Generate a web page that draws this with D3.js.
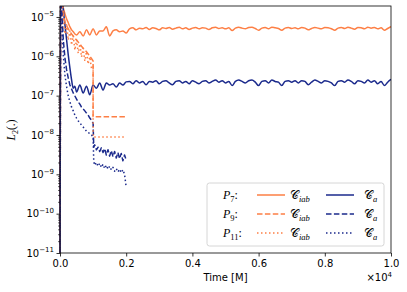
<!DOCTYPE html>
<html><head><meta charset="utf-8">
<script src="https://cdn.jsdelivr.net/npm/d3@7"></script>
<style>body{margin:0;background:#fff} svg{display:block}</style>
</head><body><svg id="c" width="407" height="292"></svg>
<script>
// ---- axis ticks ----
const xTicks = [0, 2000, 4000, 6000, 8000, 10000];
const xTickLabels = ["0.0", "0.2", "0.4", "0.6", "0.8", "1.0"];
const yTickExps = [-11, -10, -9, -8, -7, -6, -5];

// ---- time grids ----
const timeEarly = [0,20,50,100,150,200,250,300,350,400,450,500,600,700,800,900,1000,1100,1200,1300,1400,1500,1600,1700,1800,1900,2000];
const timeLate = d3.range(2100, 10001, 100);
const timePre = [0,20,50,100,150,200,250,300,350,400,450,500,550,600,650,700,750,800,850,900,950,1000];
const timeFlat = [1000, 2000];
const timePost = [1020,1050,1100,1150,1200,1250,1300,1350,1400,1450,1500,1550,1600,1650,1700,1750,1800,1850,1900,1950,2000];

// ---- P7, C_iab ----
const p7IabEarly = [1e-12,1e-4,3e-5,1.7e-5,1.2e-5,8.9e-6,7.1e-6,5.6e-6,4.7e-6,4.2e-6,3.7e-6,3.5e-6,4.2e-6,3.3e-6,4.7e-6,3.5e-6,5.0e-6,3.5e-6,4.4e-6,4.4e-6,5.6e-6,3.3e-6,4.4e-6,4.7e-6,4.2e-6,4.4e-6,3.9e-6];
const p7IabLate = [
 5.0e-6,5.3e-6,4.7e-6,5.2e-6,5.0e-6,5.4e-6,4.8e-6,5.3e-6,5.1e-6,4.7e-6,
 5.3e-6,5.1e-6,5.4e-6,4.9e-6,5.2e-6,5.5e-6,5.0e-6,5.3e-6,4.8e-6,5.2e-6,
 5.4e-6,5.0e-6,5.3e-6,5.2e-6,4.8e-6,5.3e-6,5.5e-6,5.1e-6,5.3e-6,5.0e-6,
 5.3e-6,4.5e-6,5.2e-6,5.5e-6,5.2e-6,5.0e-6,5.4e-6,5.5e-6,5.1e-6,4.6e-6,
 5.2e-6,5.4e-6,5.0e-6,5.5e-6,5.3e-6,5.1e-6,4.6e-6,5.2e-6,5.4e-6,5.1e-6,
 5.3e-6,5.0e-6,5.4e-6,5.2e-6,4.7e-6,5.1e-6,5.4e-6,5.2e-6,5.0e-6,5.4e-6,
 5.3e-6,5.0e-6,4.6e-6,5.2e-6,5.4e-6,5.1e-6,5.5e-6,5.2e-6,4.9e-6,5.4e-6,
 5.3e-6,5.0e-6,5.5e-6,5.2e-6,5.4e-6,5.0e-6,5.3e-6,4.6e-6,5.1e-6,5.7e-6];

// ---- P7, C_a ----
const p7CaEarly = [1e-12,1e-4,4e-5,1.5e-5,6.3e-6,2.6e-6,1.07e-6,5.0e-7,2.5e-7,1.55e-7,1.74e-7,1.23e-7,1.86e-7,1.17e-7,1.74e-7,1.05e-7,1.86e-7,1.55e-7,2.09e-7,1.38e-7,2.09e-7,1.86e-7,2.0e-7,1.66e-7,2.09e-7,1.86e-7,2.24e-7];
const p7CaLate = [
 2.3e-7,2.0e-7,2.4e-7,2.1e-7,2.3e-7,1.9e-7,2.3e-7,2.2e-7,2.4e-7,2.0e-7,
 2.3e-7,2.4e-7,2.1e-7,1.9e-7,2.3e-7,2.4e-7,2.1e-7,2.3e-7,2.0e-7,2.4e-7,
 2.2e-7,2.0e-7,2.3e-7,2.4e-7,2.1e-7,2.3e-7,2.5e-7,2.2e-7,2.4e-7,2.1e-7,
 2.3e-7,1.8e-7,2.3e-7,2.5e-7,2.3e-7,2.1e-7,2.4e-7,2.5e-7,2.2e-7,1.8e-7,
 2.3e-7,2.4e-7,2.1e-7,2.5e-7,2.3e-7,2.2e-7,1.8e-7,2.3e-7,2.4e-7,2.2e-7,
 2.4e-7,2.1e-7,2.4e-7,2.3e-7,1.9e-7,2.2e-7,2.5e-7,2.3e-7,2.1e-7,2.4e-7,
 2.3e-7,2.1e-7,1.8e-7,2.3e-7,2.4e-7,2.2e-7,2.5e-7,2.3e-7,2.0e-7,2.4e-7,
 2.3e-7,2.1e-7,2.5e-7,2.2e-7,2.4e-7,2.0e-7,2.3e-7,1.8e-7,2.2e-7,2.6e-7];

// ---- P9 / P11, C_iab ----
const p9IabPre = [1e-12,1e-4,4e-5,1.1e-5,7.5e-6,5.9e-6,5.0e-6,4.2e-6,3.7e-6,3.3e-6,2.9e-6,2.6e-6,2.3e-6,2.05e-6,1.8e-6,1.6e-6,1.45e-6,1.3e-6,1.15e-6,1.0e-6,8.8e-7,7.6e-7];
const p9IabFlat = [2.9e-8, 2.9e-8];
const p11IabPre = [1e-12,1e-4,3e-5,9.4e-6,3.7e-6,6.3e-6,2.6e-6,4.4e-6,1.95e-6,3.3e-6,1.45e-6,2.6e-6,1.2e-6,2.05e-6,9.6e-7,1.6e-6,7.6e-7,1.3e-6,6.4e-7,9.6e-7,5.0e-7,5.6e-7];
const p11IabFlat = [8.9e-9, 8.9e-9];

// ---- P9 / P11, C_a ----
const p9CaPre = [1e-12,1e-4,2e-5,2.6e-6,9e-7,4.5e-7,2.8e-7,1.86e-7,1.47e-7,1.17e-7,9.8e-8,8.2e-8,6.9e-8,6.1e-8,5.1e-8,4.6e-8,4.1e-8,3.6e-8,3.2e-8,2.7e-8,2.4e-8,2.0e-8];
const p9CaPost = [4.9e-9,5.6e-9,4.2e-9,4.9e-9,3.8e-9,4.7e-9,3.6e-9,4.5e-9,3.1e-9,4.2e-9,2.9e-9,4.0e-9,2.8e-9,3.8e-9,2.6e-9,3.6e-9,2.5e-9,3.4e-9,2.2e-9,3.1e-9,2.3e-9];
const p11CaPre = [1e-12,1e-4,1e-5,1.07e-6,3.3e-7,1.66e-7,9.8e-8,6.9e-8,5.1e-8,4.1e-8,3.2e-8,2.7e-8,2.3e-8,2.0e-8,1.8e-8,1.6e-8,1.4e-8,1.25e-8,1.2e-8,1.05e-8,1.0e-8,8.9e-9];
const p11CaPost = [2.1e-9,1.7e-9,2.0e-9,1.6e-9,1.9e-9,1.5e-9,1.8e-9,1.4e-9,1.7e-9,1.35e-9,1.6e-9,1.3e-9,1.5e-9,1.2e-9,1.4e-9,1.15e-9,1.35e-9,1.1e-9,1.3e-9,1.0e-9,4.7e-10];

const orange = "#fd7f45", navy = "#1b2a8c";

const svg = d3.select("#c");
const L = 60, R = 391, T = 6, B = 253;
const x = d3.scaleLinear().domain([0, 10000]).range([L, R]);
const y = d3.scaleLog().domain([1e-11, 1.9e-5]).range([B, T]);

svg.append("defs").append("clipPath").attr("id", "clip")
  .append("rect").attr("x", L - 1.2).attr("y", T).attr("width", R - L + 1.2).attr("height", B - T);

const zip = (ts, vs) => ts.map((t, i) => [t, vs[i]]);
const series = [
  {pts: zip(timeEarly.concat(timeLate), p7IabEarly.concat(p7IabLate)), color: orange, dash: null, smooth: true},
  {pts: zip(timeEarly.concat(timeLate), p7CaEarly.concat(p7CaLate)), color: navy, dash: null, smooth: true},
  {pts: zip(timePre.concat(timeFlat), p9IabPre.concat(p9IabFlat)), color: orange, dash: "5.5,2.4"},
  {pts: zip(timePre.concat(timePost), p9CaPre.concat(p9CaPost)), color: navy, dash: "5.5,2.4"},
  {pts: zip(timePre.concat(timeFlat), p11IabPre.concat(p11IabFlat)), color: orange, dash: "1.5,2.5"},
  {pts: zip(timePre.concat(timePost), p11CaPre.concat(p11CaPost)), color: navy, dash: "1.5,2.5"}
];
const gLines = svg.append("g").attr("clip-path", "url(#clip)");
series.forEach(s => {
  const line = d3.line().x(d => x(d[0])).y(d => y(d[1]))
    .curve(s.smooth ? d3.curveMonotoneX : d3.curveLinear);
  gLines.append("path").attr("d", line(s.pts)).attr("fill", "none")
    .attr("stroke", s.color).attr("stroke-width", 1.5)
    .attr("stroke-dasharray", s.dash).attr("stroke-linejoin", "round");
});

// ---- axes ----
const fontSans = "DejaVu Sans, sans-serif";
const xAxis = svg.append("g").attr("transform", `translate(0,${B})`)
  .call(d3.axisBottom(x).tickValues(xTicks).tickFormat((d, i) => xTickLabels[i]).tickSize(3.5).tickPadding(3.5));
xAxis.select(".domain").remove();
xAxis.selectAll("text").attr("font-family", fontSans).attr("font-size", 10).attr("fill", "#000");
xAxis.selectAll("line").attr("stroke-width", 0.8);

const minorVals = [];
yTickExps.slice(0, -1).forEach(e => { for (let m = 2; m <= 9; m++) minorVals.push(m * Math.pow(10, e)); });
const yMinor = svg.append("g").attr("transform", `translate(${L},0)`)
  .call(d3.axisLeft(y).tickValues(minorVals).tickFormat("").tickSize(2));
yMinor.select(".domain").remove();
yMinor.selectAll("line").attr("stroke-width", 0.6);

const yAxis = svg.append("g").attr("transform", `translate(${L},0)`)
  .call(d3.axisLeft(y).tickValues(yTickExps.map(e => Math.pow(10, e))).tickFormat("").tickSize(3.5).tickPadding(3.5));
yAxis.select(".domain").remove();
yAxis.selectAll("line").attr("stroke-width", 0.8);
yAxis.selectAll(".tick").each(function(d, i) {
  const t = d3.select(this).append("text").attr("x", -6).attr("dy", "0.32em")
    .attr("text-anchor", "end").attr("font-family", fontSans).attr("font-size", 10).attr("fill", "#000");
  t.append("tspan").text("10");
  t.append("tspan").attr("dy", -4.5).attr("font-size", 7).text("\u2212" + Math.abs(yTickExps[i]));
});

svg.append("rect").attr("x", L).attr("y", T).attr("width", R - L).attr("height", B - T)
  .attr("fill", "none").attr("stroke", "#000").attr("stroke-width", 0.8);

// axis labels
svg.append("text").attr("x", (L + R) / 2).attr("y", 281).attr("text-anchor", "middle")
  .attr("font-family", fontSans).attr("font-size", 10).text("Time [M]");
const off = svg.append("text").attr("x", R + 1).attr("y", 281).attr("text-anchor", "end")
  .attr("font-family", fontSans).attr("font-size", 10);
off.append("tspan").text("\u00d710");
off.append("tspan").attr("dy", -4.5).attr("font-size", 7).text("4");

const serif = "Liberation Serif, DejaVu Serif, serif";
const yl = svg.append("text").attr("transform", "translate(15,130) rotate(-90)")
  .attr("text-anchor", "middle").attr("font-family", serif).attr("font-size", 11.5);
yl.append("tspan").attr("font-style", "italic").text("L");
yl.append("tspan").attr("dy", 2.5).attr("font-size", 8).text("2");
yl.append("tspan").attr("dy", -2.5).text("(.)");

// ---- legend ----
const legRows = [
  {p: "7", dash: null},
  {p: "9", dash: "5.5,2.4"},
  {p: "11", dash: "1.5,2.5"}
];
const leg = svg.append("g");
leg.append("rect").attr("x", 207).attr("y", 183).attr("width", 177).attr("height", 63).attr("rx", 2.5)
  .attr("fill", "#fff").attr("fill-opacity", 0.8).attr("stroke", "#cccccc").attr("stroke-width", 0.8);
legRows.forEach((r, i) => {
  const cy = 195 + i * 19;
  const lt = leg.append("text").attr("x", 223).attr("y", cy + 4).attr("font-family", serif).attr("font-size", 12);
  lt.append("tspan").attr("font-style", "italic").text("P");
  lt.append("tspan").attr("dy", 2.5).attr("font-size", 8.5).text(r.p);
  lt.append("tspan").attr("dy", -2.5).text(":");
  [[257, orange, "iab", 290], [326, navy, "a", 364]].forEach(([x0, c, sub, tx]) => {
    leg.append("line").attr("x1", x0).attr("x2", x0 + 28).attr("y1", cy).attr("y2", cy)
      .attr("stroke", c).attr("stroke-width", 1.5).attr("stroke-dasharray", r.dash);
    const ct = leg.append("text").attr("x", tx).attr("y", cy + 4).attr("font-family", serif).attr("font-size", 12);
    ct.append("tspan").text("\u{1D49E}");
    ct.append("tspan").attr("dy", 2.5).attr("font-size", 8.5).attr("font-style", "italic").text(sub);
  });
});
</script>
</body></html>
